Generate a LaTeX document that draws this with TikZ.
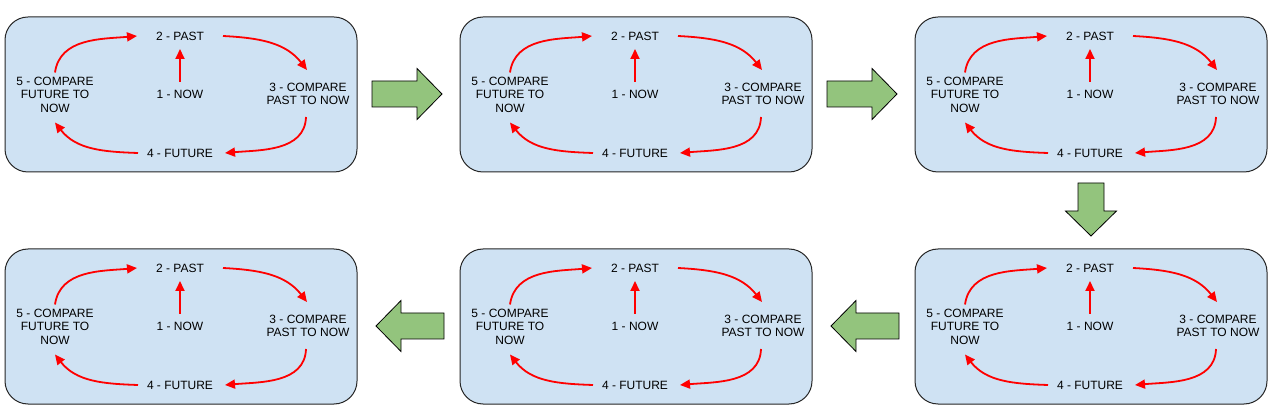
\documentclass[tikz,border=0pt]{standalone}
\usepackage{fontspec}
\setmainfont{Liberation Sans}
\usetikzlibrary{arrows.meta,calc}
\definecolor{boxblue}{HTML}{CFE2F3}
\definecolor{garrowfill}{HTML}{93C47D}
\tikzset{
  cbox/.style={draw=black!85,line width=1pt,fill=boxblue,rounded corners=23pt,minimum width=352pt,minimum height=155pt,inner sep=0pt},
  lbl/.style={inner sep=0pt,align=center,font=\fontsize{12}{13.5}\selectfont},
  redarr/.style={draw=red,line width=1.8pt,-{Triangle[length=10pt,width=9pt]}},
  garrow/.style={draw=black,line width=0.8pt,fill=garrowfill,line join=miter}
}
\newcommand\cyclebox[3]{%
  \node[cbox] (#1) at (#2,#3) {};
  \node[lbl] (#1p) at ($(#2,#3)+(-1,58.5)$) {2 - PAST};
  \node[lbl] (#1n) at ($(#2,#3)+(-1,0.5)$) {1 - NOW};
  \node[lbl] (#1f) at ($(#2,#3)+(-1,-58.5)$) {4 - FUTURE};
  \node[lbl] (#1c) at ($(#2,#3)+(-126,0)$) {5 - COMPARE\\FUTURE TO\\NOW};
  \node[lbl] (#1t) at ($(#2,#3)+(127,0.5)$) {3 - COMPARE\\PAST TO NOW};
  \draw[redarr] ([yshift=12pt]#1n.center) -- ([yshift=-13pt]#1p.center);
  \draw[redarr] ([yshift=22pt]#1c.center) to[out=82,in=185] ([xshift=-43pt]#1p.center);
  \draw[redarr] ([xshift=43pt]#1p.center) to[out=-3,in=128] ([xshift=-1pt,yshift=24pt]#1t.center);
  \draw[redarr] ([xshift=-2pt,yshift=-23pt]#1t.center) to[out=-92,in=5] ([xshift=45pt]#1f.center);
  \draw[redarr] ([xshift=-42pt]#1f.center) to[out=178,in=-52] ([yshift=-28pt]#1c.center);
}
\newcommand\rightgreen[2]{%
  \draw[garrow] ($(#1,#2)+(-35,13)$) -- ($(#1,#2)+(10,13)$) -- ($(#1,#2)+(10,25.5)$) -- ($(#1,#2)+(35,0)$) -- ($(#1,#2)+(10,-25.5)$) -- ($(#1,#2)+(10,-13)$) -- ($(#1,#2)+(-35,-13)$) -- cycle;
}
\newcommand\leftgreen[2]{%
  \draw[garrow] ($(#1,#2)+(34,13)$) -- ($(#1,#2)+(-9,13)$) -- ($(#1,#2)+(-9,25.5)$) -- ($(#1,#2)+(-34,0)$) -- ($(#1,#2)+(-9,-25.5)$) -- ($(#1,#2)+(-9,-13)$) -- ($(#1,#2)+(34,-13)$) -- cycle;
}
\begin{document}
\begin{tikzpicture}[x=1pt,y=1pt]
\useasboundingbox (0,0) rectangle (1274,-411);
\cyclebox{a}{181}{-94.5}
\cyclebox{b}{636}{-94.5}
\cyclebox{c}{1091}{-94.5}
\cyclebox{d}{1091}{-326.5}
\cyclebox{e}{636}{-326.5}
\cyclebox{f}{181}{-326.5}
\rightgreen{407}{-94}
\rightgreen{862}{-94}
\draw[garrow] (1078,-183) -- (1104,-183) -- (1104,-211) -- (1116.5,-211) -- (1091,-236) -- (1065.5,-211) -- (1078,-211) -- cycle;
\leftgreen{865}{-326}
\leftgreen{410}{-326}
\end{tikzpicture}
\end{document}
